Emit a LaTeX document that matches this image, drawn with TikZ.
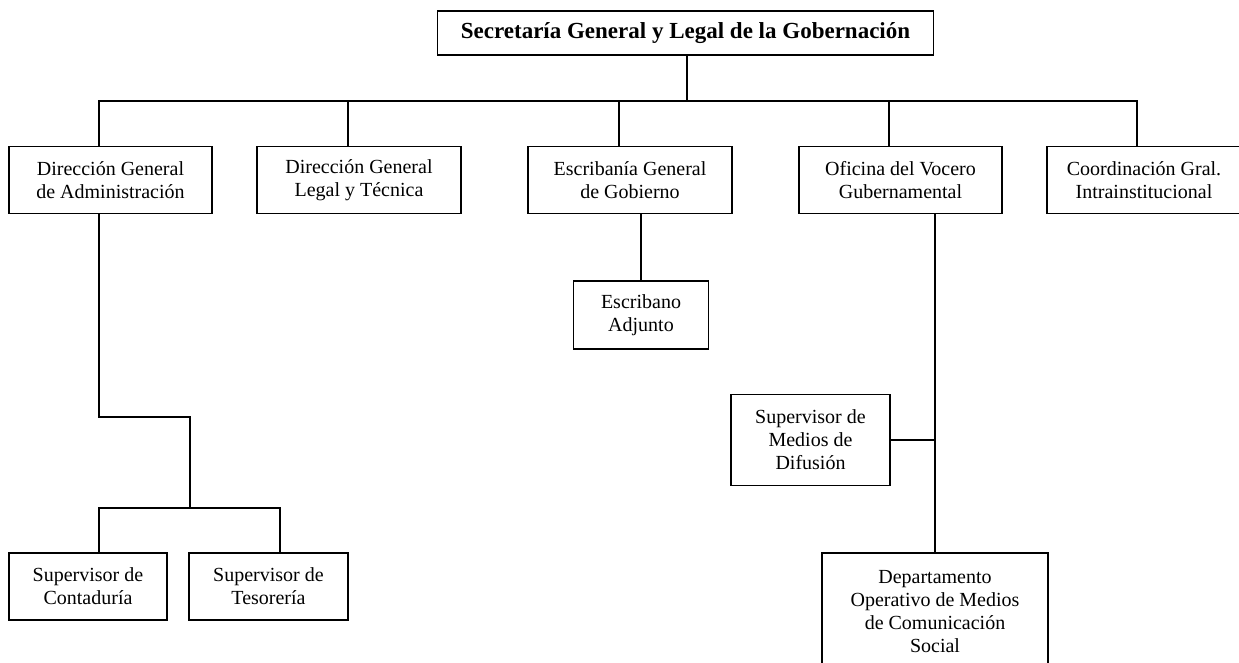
\documentclass[tikz,border=0pt]{standalone}
\usepackage{fontspec}
\setmainfont{Liberation Serif}
\begin{document}
\begin{tikzpicture}[x=1pt,y=-1pt,
  box/.style={draw,line width=1.6pt,inner sep=0pt,align=center,font=\fontsize{20}{23}\selectfont},
  link/.style={line width=1.6pt}]
\useasboundingbox (0,0) rectangle (1239,663);
\clip (0,0) rectangle (1239,663);
\node[box,minimum width=496,minimum height=44,font=\fontsize{23}{25}\selectfont\bfseries] (top) at (685.5,33) {Secretaría General y Legal de la Gobernación};
\node[box,minimum width=203,minimum height=67] (a1) at (110.5,180) {Dirección General\\de Administración};
\node[box,minimum width=204,minimum height=67] (a2) at (359,180) {Dirección General\\Legal y Técnica};
\node[box,minimum width=204,minimum height=67] (a3) at (630,180) {Escribanía General\\de Gobierno};
\node[box,minimum width=203,minimum height=67] (a4) at (900.5,180) {Oficina del Vocero\\Gubernamental};
\node[box,minimum width=194,minimum height=67] (a5) at (1144,180) {Coordinación Gral.\\Intrainstitucional};
\node[box,minimum width=135,minimum height=68] (esc) at (641,315) {Escribano\\Adjunto};
\node[box,minimum width=158,minimum height=67] (c1) at (88,586.5) {Supervisor de\\Contaduría};
\node[box,minimum width=159,minimum height=67] (c2) at (268.5,586.5) {Supervisor de\\Tesorería};
\node[box,minimum width=159,minimum height=91] (med) at (810.5,440) {Supervisor de\\Medios de\\Difusión};
\node[box,minimum width=226,minimum height=118] (dep) at (935,612) {Departamento\\Operativo de Medios\\de Comunicación\\Social};
\coordinate (bus) at (687,101);
\coordinate (bend) at (190,417);
\coordinate (j1) at (190,508);
\draw[link] ([xshift=1.5pt]top.south) -- (bus);
\draw[link] ([xshift=-11.5pt]a1.north) |- (bus);
\draw[link] ([xshift=-11pt]a2.north) |- (bus);
\draw[link] ([xshift=-11pt]a3.north) |- (bus);
\draw[link] ([xshift=-11.5pt]a4.north) |- (bus);
\draw[link] ([xshift=-7pt]a5.north) |- (bus);
\draw[link] (esc.north) -- (esc.north |- a3.south);
\draw[link] ([xshift=-11.5pt]a1.south) |- (bend) -- (j1);
\draw[link] ([xshift=11pt]c1.north) |- (j1);
\draw[link] ([xshift=11.5pt]c2.north) |- (j1);
\draw[link] (dep.north) -- (dep.north |- a4.south);
\draw[link] (med.east) -- (med.east -| dep.north);
\end{tikzpicture}
\end{document}
